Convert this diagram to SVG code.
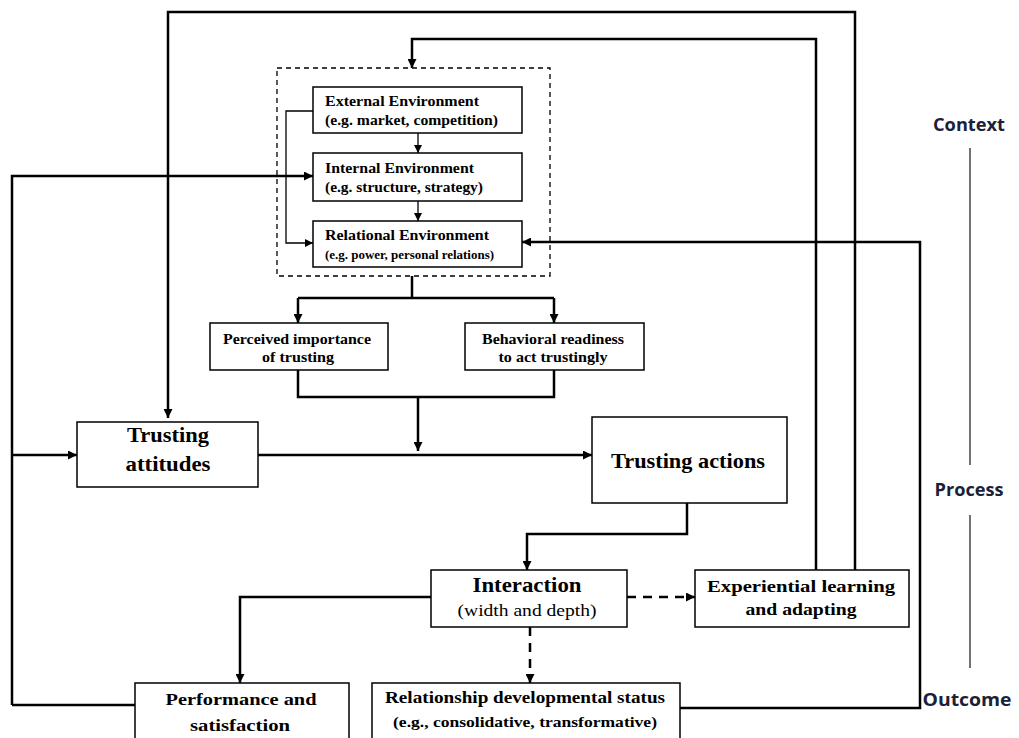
<svg xmlns="http://www.w3.org/2000/svg" width="1019" height="738" viewBox="0 0 1019 738">
<defs>
<marker id="ah" viewBox="0 0 10 10" refX="10" refY="5" markerWidth="9" markerHeight="9" markerUnits="userSpaceOnUse" orient="auto">
<path d="M0,0 L10,5 L0,10 z" fill="#000"/>
</marker>
<marker id="ahs" viewBox="0 0 10 10" refX="10" refY="5" markerWidth="8" markerHeight="8" markerUnits="userSpaceOnUse" orient="auto">
<path d="M0,0 L10,5 L0,10 z" fill="#000"/>
</marker>
</defs>
<style>
.box{fill:#fff;stroke:#000;stroke-width:1.5}
.c{fill:none;stroke:#000;stroke-width:2.5}
.t{fill:none;stroke:#000;stroke-width:1.3}
.d{fill:none;stroke:#000;stroke-width:2.5;stroke-dasharray:9,7}
.s{font-family:"Liberation Serif",serif;font-weight:bold;fill:#000}
.m{text-anchor:middle}
.lab{font-family:"Open Sans","Liberation Sans",sans-serif;font-weight:bold;font-size:17px;fill:#1b2238;text-anchor:middle}
</style>
<rect width="1019" height="738" fill="#fff"/>
<g id="connectors">
<path class="c" d="M855,570 V12 H168 V418" marker-end="url(#ah)"/>
<path class="c" d="M816,570 V39 H412 V68" marker-end="url(#ah)"/>
<path class="t" d="M313,111 H286 V243 H313" marker-end="url(#ahs)"/>
<path class="t" d="M418,133 V153" marker-end="url(#ahs)"/>
<path class="t" d="M418,201 V221" marker-end="url(#ahs)"/>
<path class="c" d="M12,705 V176 H313" marker-end="url(#ah)"/>
<path class="c" d="M12,455 H77" marker-end="url(#ah)"/>
<path class="c" d="M135,705 H12"/>
<path class="c" d="M680,708 H920 V242 H522" marker-end="url(#ah)"/>
<path class="c" d="M412,276 V298"/>
<path class="c" d="M298,298 H554"/>
<path class="c" d="M298,298 V323" marker-end="url(#ah)"/>
<path class="c" d="M554,298 V323" marker-end="url(#ah)"/>
<path class="c" d="M298,370 V397 H554 V370"/>
<path class="c" d="M418,397 V451" marker-end="url(#ah)"/>
<path class="c" d="M258,455 H592" marker-end="url(#ah)"/>
<path class="c" d="M687,503 V534 H527 V570" marker-end="url(#ah)"/>
<path class="d" d="M627,597 H695" marker-end="url(#ah)"/>
<path class="c" d="M431,597 H240 V683" marker-end="url(#ah)"/>
<path class="d" d="M530,627 V683" marker-end="url(#ah)"/>
<path fill="none" stroke="#444" stroke-width="1.5" d="M970,148 V465 M970,515 V668"/>
</g>
<g id="context-frame">
<rect x="277" y="68" width="273" height="208" fill="none" stroke="#000" stroke-width="1.3" stroke-dasharray="5,4"/>
</g>
<g id="external">
<rect class="box" x="313" y="87" width="209" height="46"/>
<text class="s" x="325" y="106" font-size="14.5" textLength="154" lengthAdjust="spacingAndGlyphs">External Environment</text>
<text class="s" x="325" y="125" font-size="14.5" textLength="173" lengthAdjust="spacingAndGlyphs">(e.g. market, competition)</text>
</g>
<g id="internal">
<rect class="box" x="313" y="153" width="209" height="48"/>
<text class="s" x="325" y="173" font-size="14.5" textLength="149" lengthAdjust="spacingAndGlyphs">Internal Environment</text>
<text class="s" x="325" y="192" font-size="14.5" textLength="158" lengthAdjust="spacingAndGlyphs">(e.g. structure, strategy)</text>
</g>
<g id="relational">
<rect class="box" x="313" y="221" width="209" height="46"/>
<text class="s" x="325" y="240" font-size="14.5" textLength="164" lengthAdjust="spacingAndGlyphs">Relational Environment</text>
<text class="s" x="325" y="259" font-size="11.5" textLength="169" lengthAdjust="spacingAndGlyphs">(e.g. power, personal relations)</text>
</g>
<g id="perceived">
<rect class="box" x="210" y="323" width="178" height="47"/>
<text class="s m" x="297" y="344" font-size="14" textLength="148" lengthAdjust="spacingAndGlyphs">Perceived  importance</text>
<text class="s m" x="298" y="362" font-size="14" textLength="72" lengthAdjust="spacingAndGlyphs">of trusting</text>
</g>
<g id="behavioral">
<rect class="box" x="465" y="323" width="179" height="47"/>
<text class="s m" x="553" y="344" font-size="14" textLength="142" lengthAdjust="spacingAndGlyphs">Behavioral readiness</text>
<text class="s m" x="553" y="362" font-size="14" textLength="109" lengthAdjust="spacingAndGlyphs">to act trustingly</text>
</g>
<g id="attitudes">
<rect class="box" x="77" y="422" width="181" height="65"/>
<text class="s m" x="168" y="442" font-size="22" textLength="82" lengthAdjust="spacingAndGlyphs">Trusting</text>
<text class="s m" x="168" y="471" font-size="22" textLength="85" lengthAdjust="spacingAndGlyphs">attitudes</text>
</g>
<g id="actions">
<rect class="box" x="592" y="417" width="195" height="86"/>
<text class="s m" x="688" y="468" font-size="22" textLength="154" lengthAdjust="spacingAndGlyphs">Trusting actions</text>
</g>
<g id="interaction">
<rect class="box" x="431" y="570" width="196" height="57"/>
<text class="s m" x="527" y="592" font-size="22" textLength="109" lengthAdjust="spacingAndGlyphs">Interaction</text>
<text class="m" x="527" y="616" font-size="17.5" font-family="Liberation Serif,serif" textLength="139" lengthAdjust="spacingAndGlyphs">(width and depth)</text>
</g>
<g id="learning">
<rect class="box" x="695" y="570" width="214" height="57"/>
<text class="s m" x="801" y="592" font-size="17" textLength="188" lengthAdjust="spacingAndGlyphs">Experiential  learning</text>
<text class="s m" x="801" y="615" font-size="17" textLength="111" lengthAdjust="spacingAndGlyphs">and adapting</text>
</g>
<g id="performance">
<rect class="box" x="135" y="683" width="214" height="70"/>
<text class="s m" x="241" y="705" font-size="17.5" textLength="151" lengthAdjust="spacingAndGlyphs">Performance and</text>
<text class="s m" x="240" y="731" font-size="17.5" textLength="100" lengthAdjust="spacingAndGlyphs">satisfaction</text>
</g>
<g id="relationship">
<rect class="box" x="372" y="683" width="308" height="70"/>
<text class="s m" x="525" y="703" font-size="16.5" textLength="280" lengthAdjust="spacingAndGlyphs">Relationship developmental status</text>
<text class="s m" x="525" y="727" font-size="15.5" textLength="264" lengthAdjust="spacingAndGlyphs">(e.g., consolidative, transformative)</text>
</g>
<g id="labels">
<text class="lab" x="969" y="131" textLength="72" lengthAdjust="spacingAndGlyphs">Context</text>
<text class="lab" x="969" y="496" textLength="69" lengthAdjust="spacingAndGlyphs">Process</text>
<text class="lab" x="967" y="706" textLength="89" lengthAdjust="spacingAndGlyphs">Outcome</text>
</g>
</svg>
